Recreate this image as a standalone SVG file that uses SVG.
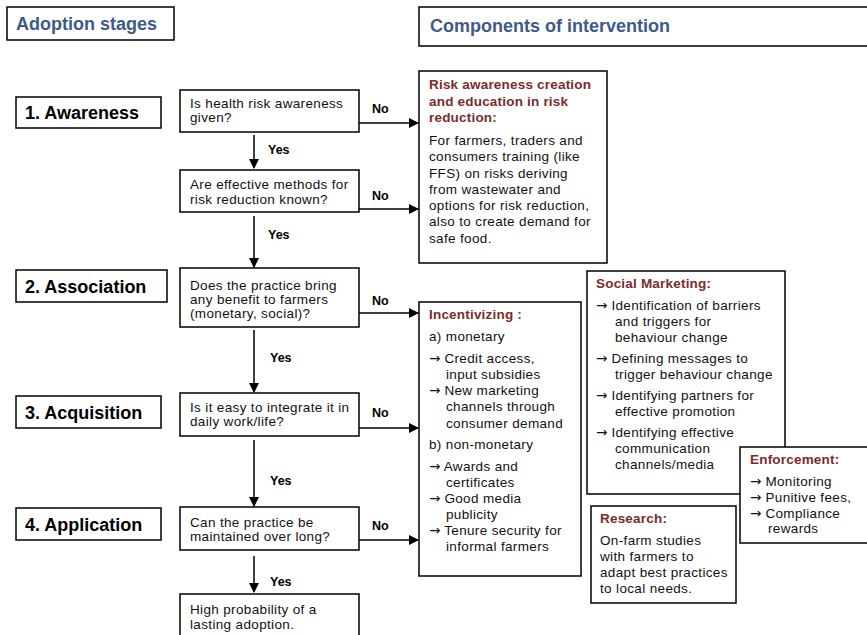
<svg xmlns="http://www.w3.org/2000/svg" width="867" height="635" viewBox="0 0 867 635">
<defs>
<marker id="ah" markerWidth="10" markerHeight="10" refX="9" refY="5" orient="auto" markerUnits="userSpaceOnUse">
<path d="M0,0 L10,5 L0,10 Z" fill="#000"/>
</marker>
<style>
.box{fill:#fff;stroke:#000;stroke-width:1.5}
.hd{font-family:"Liberation Sans",Arial,sans-serif;font-weight:bold;font-size:18px;fill:#3d5a8a}
.st{font-family:"Liberation Sans",Arial,sans-serif;font-weight:bold;font-size:18px;fill:#000}
.t{font-family:"Liberation Sans",Arial,sans-serif;font-size:13.5px;letter-spacing:0.35px;fill:#111}
.rt{font-family:"Liberation Sans",Arial,sans-serif;font-weight:bold;font-size:13.5px;letter-spacing:0.2px;fill:#7b2c2c}
.lb{font-family:"Liberation Sans",Arial,sans-serif;font-weight:bold;font-size:12.5px;fill:#000}
.ar{font-family:"DejaVu Sans",sans-serif;letter-spacing:0}
.ln{stroke:#000;stroke-width:1.5;fill:none}
</style>
</defs>
<rect width="867" height="635" fill="#fff"/>

<g id="hdr-adoption"><rect class="box" x="7" y="7" width="167" height="33"/><text class="hd" x="16" y="30">Adoption stages</text></g>
<g id="hdr-components"><rect class="box" x="419" y="7" width="460" height="39"/><text class="hd" x="430" y="32">Components of intervention</text></g>

<g id="stage1"><rect class="box" x="16" y="97" width="145" height="31"/><text class="st" x="25" y="119">1. Awareness</text></g>
<g id="stage2"><rect class="box" x="16" y="270" width="151" height="32"/><text class="st" x="25" y="293">2. Association</text></g>
<g id="stage3"><rect class="box" x="16" y="396" width="145" height="32"/><text class="st" x="25" y="419">3. Acquisition</text></g>
<g id="stage4"><rect class="box" x="16" y="508" width="145" height="32"/><text class="st" x="25" y="531">4. Application</text></g>

<g id="q1"><rect class="box" x="180" y="90" width="179" height="42"/><text class="t" x="190" y="108">Is health risk awareness</text><text class="t" x="190" y="122">given?</text></g>
<g id="q2"><rect class="box" x="180" y="170" width="179" height="42"/><text class="t" x="190" y="189">Are effective methods for</text><text class="t" x="190" y="204">risk reduction known?</text></g>
<g id="q3"><rect class="box" x="180" y="268" width="179" height="59"/><text class="t" x="190" y="290">Does the practice bring</text><text class="t" x="190" y="304">any benefit to farmers</text><text class="t" x="190" y="318">(monetary, social)?</text></g>
<g id="q4"><rect class="box" x="180" y="393" width="179" height="43"/><text class="t" x="190" y="412">Is it easy to integrate it in</text><text class="t" x="190" y="426">daily work/life?</text></g>
<g id="q5"><rect class="box" x="180" y="507" width="179" height="43"/><text class="t" x="190" y="527">Can the practice be</text><text class="t" x="190" y="541">maintained over long?</text></g>
<g id="q6"><rect class="box" x="180" y="594" width="179" height="50"/><text class="t" x="190" y="614">High probability of a</text><text class="t" x="190" y="629">lasting adoption.</text></g>

<g id="risk"><rect class="box" x="419" y="71" width="188" height="192"/>
<text class="rt" x="429" y="89">Risk awareness creation</text>
<text class="rt" x="429" y="106">and education in risk</text>
<text class="rt" x="429" y="122">reduction:</text>
<text class="t" x="429" y="145">For farmers, traders and</text>
<text class="t" x="429" y="161">consumers training (like</text>
<text class="t" x="429" y="178">FFS)  on risks deriving</text>
<text class="t" x="429" y="194">from wastewater and</text>
<text class="t" x="429" y="210">options for risk reduction,</text>
<text class="t" x="429" y="226">also to create demand for</text>
<text class="t" x="429" y="243">safe food.</text>
</g>

<g id="incent"><rect class="box" x="419" y="302" width="162" height="274"/>
<text class="rt" x="429" y="319">Incentivizing :</text>
<text class="t" x="429" y="341">a) monetary</text>
<text class="t" x="429" y="363"><tspan class="ar">→</tspan> Credit access,</text>
<text class="t" x="446" y="379">input subsidies</text>
<text class="t" x="429" y="395"><tspan class="ar">→</tspan> New marketing</text>
<text class="t" x="446" y="411">channels through</text>
<text class="t" x="446" y="428">consumer demand</text>
<text class="t" x="429" y="449">b) non-monetary</text>
<text class="t" x="429" y="471"><tspan class="ar">→</tspan> Awards and</text>
<text class="t" x="446" y="487">certificates</text>
<text class="t" x="429" y="503"><tspan class="ar">→</tspan> Good media</text>
<text class="t" x="446" y="519">publicity</text>
<text class="t" x="429" y="535"><tspan class="ar">→</tspan> Tenure security for</text>
<text class="t" x="446" y="551">informal farmers</text>
</g>

<g id="social"><rect class="box" x="587" y="271" width="198" height="223"/>
<text class="rt" x="596" y="288">Social Marketing:</text>
<text class="t" x="596" y="310"><tspan class="ar">→</tspan> Identification of barriers</text>
<text class="t" x="615" y="326">and triggers for</text>
<text class="t" x="615" y="342">behaviour change</text>
<text class="t" x="596" y="363"><tspan class="ar">→</tspan> Defining messages to</text>
<text class="t" x="615" y="379">trigger behaviour change</text>
<text class="t" x="596" y="400"><tspan class="ar">→</tspan> Identifying partners for</text>
<text class="t" x="615" y="416">effective promotion</text>
<text class="t" x="596" y="437"><tspan class="ar">→</tspan> Identifying effective</text>
<text class="t" x="615" y="453">communication</text>
<text class="t" x="615" y="469">channels/media</text>
</g>

<g id="enforce"><rect class="box" x="740" y="447" width="135" height="96"/>
<text class="rt" x="750" y="464">Enforcement:</text>
<text class="t" x="750" y="486"><tspan class="ar">→</tspan> Monitoring</text>
<text class="t" x="750" y="502"><tspan class="ar">→</tspan> Punitive fees,</text>
<text class="t" x="750" y="518"><tspan class="ar">→</tspan> Compliance</text>
<text class="t" x="768" y="533">rewards</text>
</g>

<g id="research"><rect class="box" x="591" y="506" width="145" height="97"/>
<text class="rt" x="600" y="523">Research:</text>
<text class="t" x="600" y="545">On-farm studies</text>
<text class="t" x="600" y="561">with farmers to</text>
<text class="t" x="600" y="577">adapt best practices</text>
<text class="t" x="600" y="593">to local needs.</text>
</g>

<g id="connectors">
<line class="ln" x1="254" y1="135" x2="254" y2="168" marker-end="url(#ah)"/>
<line class="ln" x1="254" y1="216" x2="254" y2="267" marker-end="url(#ah)"/>
<line class="ln" x1="254" y1="330" x2="254" y2="392" marker-end="url(#ah)"/>
<line class="ln" x1="254" y1="440" x2="254" y2="506" marker-end="url(#ah)"/>
<line class="ln" x1="254" y1="556" x2="254" y2="592" marker-end="url(#ah)"/>
<line class="ln" x1="359" y1="123" x2="418" y2="123" marker-end="url(#ah)"/>
<line class="ln" x1="359" y1="209" x2="418" y2="209" marker-end="url(#ah)"/>
<line class="ln" x1="359" y1="313" x2="418" y2="313" marker-end="url(#ah)"/>
<line class="ln" x1="359" y1="428" x2="418" y2="428" marker-end="url(#ah)"/>
<line class="ln" x1="359" y1="540" x2="418" y2="540" marker-end="url(#ah)"/>
<text class="lb" x="268" y="154">Yes</text>
<text class="lb" x="268" y="239">Yes</text>
<text class="lb" x="270" y="362">Yes</text>
<text class="lb" x="270" y="485">Yes</text>
<text class="lb" x="270" y="586">Yes</text>
<text class="lb" x="372" y="113">No</text>
<text class="lb" x="372" y="200">No</text>
<text class="lb" x="372" y="305">No</text>
<text class="lb" x="372" y="417">No</text>
<text class="lb" x="372" y="530">No</text>
</g>
</svg>
